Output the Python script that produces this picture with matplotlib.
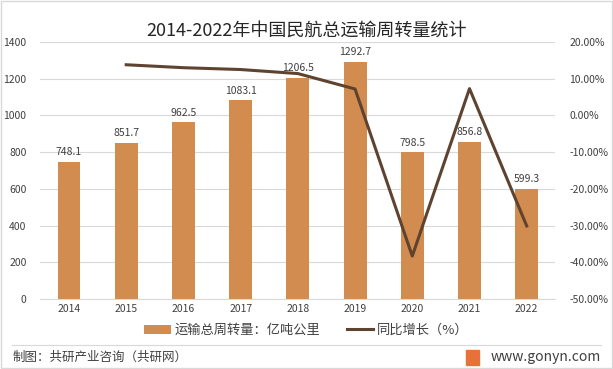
import matplotlib.pyplot as plt
from matplotlib.patches import Rectangle, Patch
from matplotlib.lines import Line2D
from matplotlib.ticker import FuncFormatter

plt.rcParams['font.family'] = ['Noto Sans CJK SC', 'DejaVu Sans']

# data
years = ['2014', '2015', '2016', '2017', '2018', '2019', '2020', '2021', '2022']
volume = [748.1, 851.7, 962.5, 1083.1, 1206.5, 1292.7, 798.5, 856.8, 599.3]
growth_years = ['2015', '2016', '2017', '2018', '2019', '2020', '2021', '2022']
growth = [13.8, 13.0, 12.5, 11.4, 7.2, -38.3, 7.3, -30.1]

bar_color = '#D38C4F'
line_color = '#5E4330'
text_color = '#404040'

fig = plt.figure(figsize=(6.13, 3.69), dpi=100)
ax = fig.add_axes([0.0659, 0.1897, 0.840, 0.6965])

x = list(range(len(years)))
ax.bar(x, volume, width=0.4, color=bar_color, zorder=2)
for xi, v in zip(x, volume):
    ax.text(xi, v + 25, f'{v:.1f}', ha='center', va='bottom', fontsize=7.5, color=text_color)

ax.set_xlim(-0.5, len(years) - 0.5)
ax.set_ylim(0, 1400)
ax.set_yticks(range(0, 1401, 200))
ax.set_xticks(x)
ax.set_xticklabels(years)
ax.tick_params(axis='both', length=0, labelsize=7.5, colors=text_color)
ax.tick_params(axis='y', pad=10)
ax.grid(axis='y', color='#D9D9D9', linewidth=0.8, zorder=0)
for s in ['top', 'right', 'left']:
    ax.spines[s].set_visible(False)
ax.spines['bottom'].set_color('#D9D9D9')

ax2 = ax.twinx()
gx = [years.index(y) for y in growth_years]
ax2.plot(gx, growth, color=line_color, linewidth=2.2, zorder=3)
ax2.set_ylim(-50, 20)
ax2.set_yticks(range(-50, 21, 10))
ax2.yaxis.set_major_formatter(FuncFormatter(lambda v, p: f'{v:.2f}%'))
ax2.tick_params(axis='y', length=0, labelsize=7.5, colors=text_color, pad=10)
for s in ['top', 'right', 'left', 'bottom']:
    ax2.spines[s].set_visible(False)

fig.text(0.5, 0.918, '2014-2022年中国民航总运输周转量统计', ha='center', va='center',
         fontsize=13, color='#262626')

handles = [Patch(facecolor=bar_color, edgecolor='none'),
           Line2D([0], [0], color=line_color, linewidth=2.2)]
fig.legend(handles, ['运输总周转量：亿吨公里', '同比增长（%）'], loc='center',
           bbox_to_anchor=(0.5, 0.105), ncol=2, frameon=False, fontsize=9.5,
           handlelength=2.0, handletextpad=0.3, columnspacing=2.0, labelcolor=text_color)

# footer
fig.add_artist(Line2D([0.02, 0.98], [0.065, 0.065], color='#D9D9D9', linewidth=0.8))
fig.text(0.02, 0.032, '制图：共研产业咨询（共研网）', ha='left', va='center',
         fontsize=9, color='#404040')
fig.add_artist(Rectangle((0.76, 0.012), 0.022, 0.04, color='#E8703A', transform=fig.transFigure))
fig.text(0.98, 0.032, 'www.gonyn.com', ha='right', va='center', fontsize=10, color='#404040')

fig.add_artist(Rectangle((0.002, 0.003), 0.996, 0.994, fill=False, edgecolor='#D9D9D9',
                         linewidth=1, transform=fig.transFigure))

fig.savefig('out.png', dpi=100)
